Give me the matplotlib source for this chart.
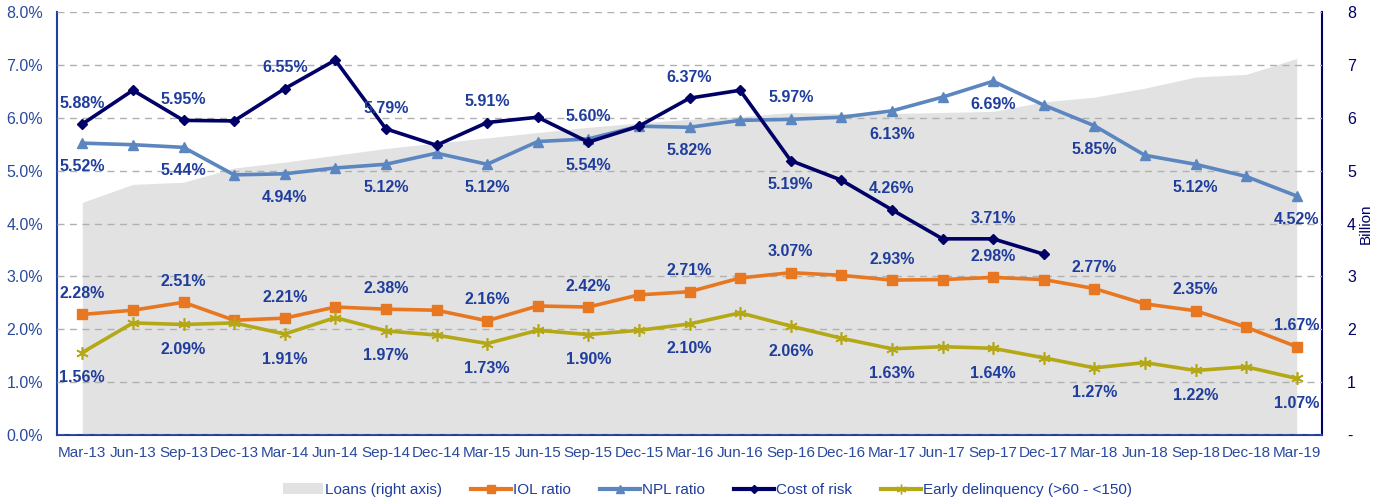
import matplotlib
matplotlib.use("Agg")
import matplotlib.pyplot as plt
from matplotlib.patches import Patch
from matplotlib.lines import Line2D

plt.rcParams['font.family'] = ['Liberation Sans', 'DejaVu Sans']

quarters = ["Mar-13", "Jun-13", "Sep-13", "Dec-13", "Mar-14", "Jun-14", "Sep-14", "Dec-14",
            "Mar-15", "Jun-15", "Sep-15", "Dec-15", "Mar-16", "Jun-16", "Sep-16", "Dec-16",
            "Mar-17", "Jun-17", "Sep-17", "Dec-17", "Mar-18", "Jun-18", "Sep-18", "Dec-18", "Mar-19"]

loans = [4.40, 4.74, 4.78, 5.05, 5.16, 5.29, 5.42, 5.52, 5.62, 5.72, 5.82, 5.90, 5.97,
         6.02, 6.10, 6.08, 6.08, 6.10, 6.12, 6.30, 6.39, 6.56, 6.77, 6.82, 7.12]
iol = [2.28, 2.36, 2.51, 2.17, 2.21, 2.42, 2.38, 2.36, 2.16, 2.44, 2.42, 2.65, 2.71,
       2.97, 3.07, 3.02, 2.93, 2.94, 2.98, 2.94, 2.77, 2.48, 2.35, 2.04, 1.67]
npl = [5.52, 5.49, 5.44, 4.92, 4.94, 5.05, 5.12, 5.33, 5.12, 5.55, 5.60, 5.84, 5.82,
       5.95, 5.97, 6.01, 6.13, 6.39, 6.69, 6.24, 5.85, 5.29, 5.12, 4.89, 4.52]
cost_of_risk = [5.88, 6.52, 5.95, 5.94, 6.55, 7.09, 5.79, 5.48, 5.91, 6.01, 5.54, 5.84, 6.37,
                6.52, 5.19, 4.82, 4.26, 3.71, 3.71, 3.42]
early_delinq = [1.56, 2.12, 2.09, 2.12, 1.91, 2.22, 1.97, 1.89, 1.73, 1.98, 1.90, 1.98, 2.10,
                2.31, 2.06, 1.83, 1.63, 1.67, 1.64, 1.46, 1.27, 1.37, 1.22, 1.29, 1.07]

left_ticks = [0, 1, 2, 3, 4, 5, 6, 7, 8]
left_ticklabels = ["0.0%", "1.0%", "2.0%", "3.0%", "4.0%", "5.0%", "6.0%", "7.0%", "8.0%"]
right_ticklabels = ["-", "1", "2", "3", "4", "5", "6", "7", "8"]

# label side for every other point: +1 above, -1 below
npl_side = {0: -1, 2: -1, 4: -1, 6: -1, 8: -1, 10: 1, 12: -1, 14: 1, 16: -1, 18: -1,
            20: -1, 22: -1, 24: -1}
cor_side = {0: 1, 2: 1, 4: 1, 6: 1, 8: 1, 10: -1, 12: 1, 14: -1, 16: 1, 18: 1}

C_IOL = "#E87722"
C_NPL = "#5B86C0"
C_COR = "#000066"
C_ED = "#B5A816"
C_LOAN = "#E2E2E2"
C_TXT = "#1F3D9C"
C_TICK = "#2A4A9C"

fig = plt.figure(figsize=(13.82, 5.01), dpi=100)
ax = fig.add_axes([57/1382, 66/501, (1322-57)/1382, (435-12)/501])
ax2 = ax.twinx()
ax.set_zorder(ax2.get_zorder() + 1)
ax.patch.set_visible(False)

x = list(range(len(quarters)))
ax2.fill_between(x, 0, loans, color=C_LOAN, lw=0, zorder=1)

ax.plot(x, iol, color=C_IOL, lw=2.6, marker='s', ms=7, zorder=4)
ax.plot(x, npl, color=C_NPL, lw=2.6, marker='^', ms=7, zorder=4)
ax.plot(x[:len(cost_of_risk)], cost_of_risk, color=C_COR, lw=2.6, marker='D', ms=5, zorder=5)
ax.plot(x, early_delinq, color=C_ED, lw=2.6, marker=(6, 2, 0), ms=9, mew=1.2, zorder=4)

lbl = dict(ha='center', va='center', fontsize=11.5, fontweight='bold', color=C_TXT,
           textcoords='offset points', zorder=6)
for i in range(0, len(quarters), 2):
    ax.annotate(f"{iol[i]:.2f}%", (i, iol[i]), xytext=(0, 15), **lbl)
    ax.annotate(f"{early_delinq[i]:.2f}%", (i, early_delinq[i]), xytext=(0, -18), **lbl)
    ax.annotate(f"{npl[i]:.2f}%", (i, npl[i]), xytext=(0, 16 if npl_side[i] > 0 else -17), **lbl)
    if i in cor_side:
        ax.annotate(f"{cost_of_risk[i]:.2f}%", (i, cost_of_risk[i]),
                    xytext=(0, 15 if cor_side[i] > 0 else -17), **lbl)

ax.set_xlim(-0.5, len(quarters) - 0.5)
ax.set_ylim(0, 8)
ax2.set_ylim(0, 8)
ax.set_yticks(left_ticks)
ax.set_yticklabels(left_ticklabels)
ax2.set_yticks(left_ticks)
ax2.set_yticklabels(right_ticklabels)
ax.set_xticks(x)
ax.set_xticklabels(quarters)

ax.grid(axis='y', color='#B0B0B0', ls=(0, (5, 4)), lw=1.0)
ax.set_axisbelow(False)
ax.tick_params(axis='x', length=0, pad=8, labelsize=11, labelcolor=C_TICK)
ax.tick_params(axis='y', length=0, pad=10, labelsize=11.5, labelcolor=C_TICK)
ax2.tick_params(axis='y', length=0, pad=18, labelsize=11.5, labelcolor=C_COR)
ax2.set_ylabel("Billion", color=C_COR, fontsize=11, labelpad=2)

for a in (ax, ax2):
    a.spines['top'].set_visible(False)
ax.spines['left'].set_color('#2040A0')
ax.spines['left'].set_linewidth(1.5)
ax.spines['bottom'].set_color('#2040A0')
ax.spines['bottom'].set_linewidth(1.5)
ax.spines['right'].set_visible(False)
ax2.spines['left'].set_visible(False)
ax2.spines['bottom'].set_visible(False)
ax2.spines['right'].set_color(C_COR)
ax2.spines['right'].set_linewidth(1.5)

handles = [Patch(facecolor=C_LOAN, edgecolor='none'),
           Line2D([], [], color=C_IOL, lw=3, marker='s', ms=6),
           Line2D([], [], color=C_NPL, lw=3, marker='^', ms=6),
           Line2D([], [], color=C_COR, lw=3, marker='D', ms=4),
           Line2D([], [], color=C_ED, lw=3, marker=(6, 2, 0), ms=7)]
names = ["Loans (right axis)", "IOL ratio", "NPL ratio", "Cost of risk",
         "Early delinquency (>60 - <150)"]
leg = fig.legend(handles, names, loc='center', bbox_to_anchor=(0.512, 0.022), ncol=5,
                 frameon=False, fontsize=11, handlelength=2.6, columnspacing=1.9,
                 handletextpad=0.15)
for t in leg.get_texts():
    t.set_color(C_TXT)

fig.savefig("out.png", dpi=100)
